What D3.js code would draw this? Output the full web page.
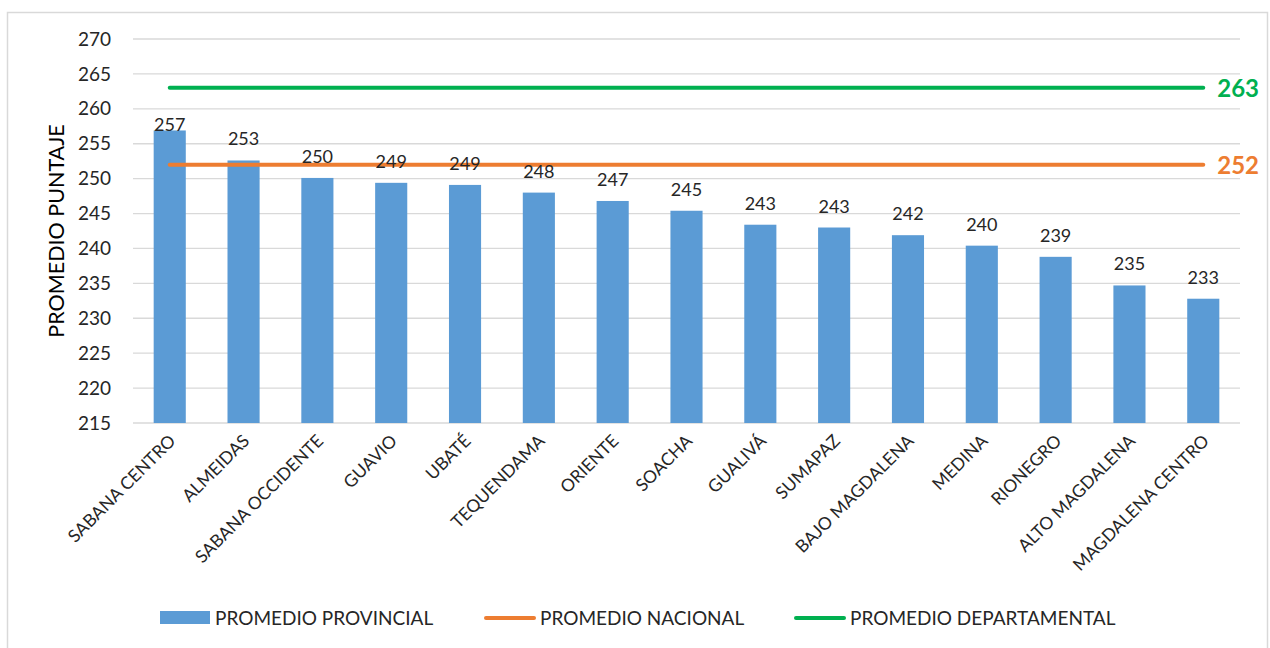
<!DOCTYPE html>
<html>
<head>
<meta charset="utf-8">
<script src="https://cdn.jsdelivr.net/npm/d3@7"></script>
<style>
body { margin: 0; background: #fff; }
svg text { font-family: Lato, "Open Sans", sans-serif; }
</style>
</head>
<body>
<svg id="chart" width="1270" height="648"></svg>
<script>
const provincias = ['SABANA CENTRO', 'ALMEIDAS', 'SABANA OCCIDENTE', 'GUAVIO', 'UBATÉ', 'TEQUENDAMA',
    'ORIENTE', 'SOACHA', 'GUALIVÁ', 'SUMAPAZ', 'BAJO MAGDALENA', 'MEDINA', 'RIONEGRO',
    'ALTO MAGDALENA', 'MAGDALENA CENTRO'];
const promedioProvincial = [256.9, 252.6, 250.1, 249.4, 249.1, 248.0, 246.8, 245.4, 243.4, 243.0,
    241.9, 240.4, 238.8, 234.7, 232.8];
const promedioNacional = 252;
const promedioDepartamental = 263;
const yTicks = d3.range(215, 271, 5);
const legendItems = [
    {label: 'PROMEDIO PROVINCIAL', kind: 'bar', color: '#5b9bd5'},
    {label: 'PROMEDIO NACIONAL', kind: 'line', color: '#ed7d31'},
    {label: 'PROMEDIO DEPARTAMENTAL', kind: 'line', color: '#00b050'}
];

const svg = d3.select('svg#chart');
const margin = {left: 133, right: 1240, top: 39, bottom: 423};

// chart frame
svg.append('rect')
    .attr('x', 7.5).attr('y', 12.5).attr('width', 1260).attr('height', 640)
    .attr('fill', 'none').attr('stroke', '#d9d9d9').attr('stroke-width', 1.5);

const x = d3.scaleBand().domain(provincias).range([margin.left, margin.right]).paddingInner(0.565).paddingOuter(0.28);
const y = d3.scaleLinear().domain([215, 270]).range([margin.bottom, margin.top]);

// gridlines
svg.append('g').selectAll('line').data(yTicks).join('line')
    .attr('x1', margin.left).attr('x2', margin.right)
    .attr('y1', d => y(d)).attr('y2', d => y(d))
    .attr('stroke', '#d9d9d9').attr('stroke-width', 1.3);

// y axis labels
const yAxis = svg.append('g').attr('transform', `translate(${margin.left},0)`)
    .call(d3.axisLeft(y).tickValues(yTicks).tickSize(0).tickPadding(22));
yAxis.select('.domain').remove();
yAxis.selectAll('text').attr('font-size', 19).attr('fill', '#262626')
    .style('font-family', 'Lato, sans-serif');

svg.append('text')
    .attr('transform', `translate(64,${(margin.top + margin.bottom) / 2}) rotate(-90)`)
    .attr('text-anchor', 'middle')
    .attr('font-size', 21.5).attr('fill', '#000')
    .text('PROMEDIO PUNTAJE');

// bars
svg.append('g').selectAll('rect').data(provincias).join('rect')
    .attr('x', (d, i) => x(d))
    .attr('y', (d, i) => y(promedioProvincial[i]))
    .attr('width', x.bandwidth())
    .attr('height', (d, i) => y(215) - y(promedioProvincial[i]))
    .attr('fill', '#5b9bd5');

// reference lines
const first = x(provincias[0]) + x.bandwidth() / 2,
      last = x(provincias[provincias.length - 1]) + x.bandwidth() / 2;
[[promedioNacional, '#ed7d31'], [promedioDepartamental, '#00b050']].forEach(([v, c]) => {
    svg.append('line')
        .attr('x1', first).attr('x2', last)
        .attr('y1', y(v)).attr('y2', y(v))
        .attr('stroke', c).attr('stroke-width', 4).attr('stroke-linecap', 'round');
    svg.append('text')
        .attr('x', last + 14).attr('y', y(v) + 9)
        .attr('font-size', 24).attr('font-weight', 'bold').attr('fill', c)
        .text(v);
});

// bar value labels (the first one sits on the bar top, the rest float above)
svg.append('g').selectAll('text').data(provincias).join('text')
    .attr('x', d => x(d) + x.bandwidth() / 2)
    .attr('y', (d, i) => y(promedioProvincial[i]) + (i === 0 ? 1 : -15))
    .attr('text-anchor', 'middle')
    .attr('font-size', 18).attr('fill', '#262626')
    .text((d, i) => d3.format('.0f')(promedioProvincial[i]));

// x axis labels
svg.append('g').selectAll('text').data(provincias).join('text')
    .attr('transform', d => `translate(${x(d) + x.bandwidth() / 2 + 7},${margin.bottom + 19}) rotate(-45)`)
    .attr('text-anchor', 'end')
    .attr('font-size', 17.5).attr('fill', '#262626')
    .text(d => d);

// legend
const legendX = [160, 485, 795];
const lg = svg.append('g').selectAll('g').data(legendItems).join('g')
    .attr('transform', (d, i) => `translate(${legendX[i]},618)`);
lg.filter(d => d.kind === 'bar').append('rect')
    .attr('x', 0).attr('y', -7).attr('width', 50).attr('height', 13).attr('fill', d => d.color);
lg.filter(d => d.kind === 'line').append('line')
    .attr('x1', 1).attr('x2', 49).attr('y1', 0).attr('y2', 0)
    .attr('stroke', d => d.color).attr('stroke-width', 4).attr('stroke-linecap', 'round');
lg.append('text')
    .attr('x', 55).attr('y', 7)
    .attr('font-size', 19).attr('fill', '#262626')
    .text(d => d.label);
</script>
</body>
</html>
